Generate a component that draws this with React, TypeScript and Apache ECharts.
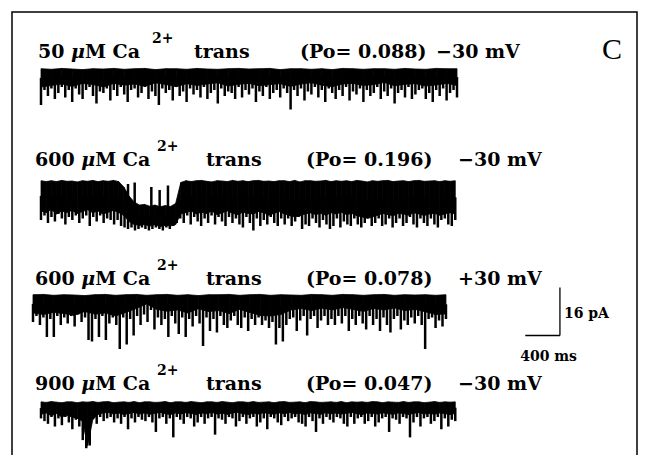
import React, { useEffect, useRef } from "react";
import * as echarts from "echarts";

// ---------- labels ----------
const concentrations = ["50", "600", "600", "900"];
const poValues = ["0.088", "0.196", "0.078", "0.047"];
const voltages = ["\u221230 mV", "\u221230 mV", "+30 mV", "\u221230 mV"];
const panelLetter = "C";
const scaleBarPA = 16;
const scaleBarMS = 400;
const scaleBarLabels = ["16 pA", "400 ms"];

// ---------- trace durations (ms) ----------
const durations = [4800, 4780, 4765, 4780];

// ---------- trace 1 (pA): upper edge, solid-band lower edge, per-bin minima ----------
const t1Top = [0.1,-0.1,0.2,0,-0.2,0.1,0,0.2,-0.1,0.1,0.2,-0.2,0.1,0.1,-0.1,0.2,0,-0.1,0.1,0.2,0,0.1,0.2,-0.2,0.1,0.1,-0.1,0.1,-0.2,0.2,0.1,-0.1,0.1,0.1,-0.1,0.2,0,-0.1,0.2,0.1,0.1];
const t1Low = [-6,-5.5,-5,-5.8,-4.8,-5.2,-6,-4.8,-5.4,-5,-5.8,-4.6,-5.2,-5.9,-4.9,-5.5,-5,-4.6,-5.7,-5.1,-4.8,-5.6,-5.2,-4.9,-5.8,-5,-4.6,-5.4,-5.9,-5,-4.8,-5.5,-5.2,-4.5,-5.6,-5.1,-4.9,-5.7,-5.3,-4.8,-5.5];
const t1Min = [
  -12,-7,-9,-6.5,-10,-8,-6,-9.5,-7,-11,
  -6.5,-8.5,-10,-7,-6,-9,-11.5,-7.5,-8,-6.5,
  -10.5,-7,-9,-6,-8.5,-11,-7,-6.5,-9.5,-8,
  -6,-10,-7.5,-9,-12,-6.5,-8,-7,-10.5,-6,
  -9,-7.5,-11,-6.5,-8.5,-7,-9.5,-6,-10,-8,
  -7,-11.5,-6.5,-9,-7.5,-8,-10,-6,-9.5,-7,
  -8.5,-6.5,-11,-7.5,-9,-6,-10,-8,-7,-9.5,
  -6.5,-8,-13.5,-7,-9,-6.5,-10.5,-7.5,-8.5,-6,
  -9.5,-7,-11,-6.5,-8,-10,-7,-9,-6,-10.5,
  -7.5,-8.5,-6.5,-11,-7,-9,-8,-6,-10,-7.5,
  -9,-6.5,-11.5,-8,-7,-9.5,-6,-10,-8.5,-7,
  -6.5,-10,-8,-11,-7,-9,-6.5,-10.5,-8,-7,-9.5,
];

// ---------- trace 2 ----------
const t2Top = [
  0.1,-0.2,0.1,-0.2,0.2,-0.1,0,-0.3,0.1,-0.1,0.2,-0.2,0.1,-0.1,0.2,-0.2,
  -2,-5,-7,-8,-7.8,-8.4,-8,-8.6,-8.2,-8.5,-7.5,-0.5,
  0.1,-0.2,0.1,0.2,-0.1,-0.3,0.1,0,-0.2,0.2,-0.1,0.1,-0.2,0.1,0.2,-0.1,0,-0.2,0.1,0.1,-0.2,0.2,-0.3,0.1,0.1,-0.1,0,0.2,-0.2,0.1,-0.1,0.1,-0.2,0.2,0,-0.3,0.1,-0.1,0.1,0.2,-0.2,0,0.1,-0.2,0.1,0.2,-0.1,0,0.1,-0.2,0.1,-0.1,0.1,
];
const t2Low = [
  -10,-10.5,-9.5,-11,-10,-10.5,-9.8,-10.8,-10.2,-9.6,-10.6,-10,-11,-10.4,-9.8,-10.5,
  -11.5,-13.5,-14.5,-14.8,-14.5,-15,-14.6,-15.2,-14.8,-15,-14.5,-11,
  -10.5,-10,-11,-10.4,-10.8,-10,-11.2,-10.6,-10,-10.8,-11.2,-10.4,-10.8,-11,-10.2,-10.6,-11.4,-10.8,-10.2,-11,-11.5,-12,-11.6,-11,-10.6,-11.2,-10.8,-11.4,-10.6,-11,-10.4,-11.2,-10.8,-11.6,-12,-12.4,-12,-11.4,-10.8,-11.2,-11.6,-10.8,-11,-11.4,-10.6,-11,-11.5,-11,-10.8,-11.4,-11,-10.6,-11,
];
const t2Min = [
  -13,-11.5,-14,-12,-13.5,-11,-12.5,-14.5,-12,-13,
  -11.5,-14,-12.5,-11.5,-15,-12,-13.5,-11.5,-14,-12.5,
  -13,-14.5,-13,-15,-15.5,-16,-15.5,-16.5,-16,-15.5,
  -16,-16.5,-16,-15.5,-16,-16.5,-15.5,-16,-15,-14,
  -12.5,-14,-11.5,-14.5,-12,-13.5,-15,-12.5,-14,-11.5,
  -14.5,-12,-13.5,-15,-12,-14,-12.5,-14.5,-15.5,-12,
  -14,-16.5,-12.5,-15,-13,-14.5,-12,-14,-15,-12.5,
  -14.5,-12.5,-15,-13.5,-12,-16,-14.5,-15,-12.5,-14,
  -15.5,-13,-14.5,-16,-15,-12.5,-15.5,-13.5,-14.5,-15,
  -12.5,-14.5,-15.5,-14,-12.5,-15,-14,-12.5,-15,-14.5,
  -12.5,-15.5,-14,-12.5,-15,-14,-12,-14.5,-15.5,-12.5,
  -14,-15,-12.5,-14.5,-15.5,-13,-12.5,-14.5,-15,-13,
];
// brief re-openings inside the long closure (ms, pA)
const t2UpT = [1004, 1081, 1273, 1369, 1465];
const t2UpV = [-1, -0.5, -2, -3, -1.5];

// ---------- trace 3 ----------
const t3Top = [0.1,0.2,-0.1,0.1,0,-0.2,0.1,0.2,-0.1,0.1,0.2,-0.1,0.1,0.2,-0.1,0.1,-0.2,0.1,0.1,0.2,-0.1,0.1,0.2,-0.1,0.1,0,-0.1,0.2,0.1,-0.1,0.2,0.1,-0.1,0.1,0.2,-0.1,0.1,0,0.1,-0.1,0.1];
const t3Low = [-6,-6.5,-5.8,-6.2,-6.8,-5.5,-6.4,-6,-7,-5.8,-4.5,-3,-4.8,-5.4,-5,-6,-4.6,-5.5,-5.2,-6.2,-4.8,-5.8,-6.8,-7,-6.5,-5,-4.5,-5.2,-4.4,-5,-4.2,-4.8,-5.5,-4.5,-5,-4.3,-5.2,-4.8,-5.6,-6.5,-6.3];
const t3Min = [
  -9,-7,-10,-7.5,-14,-8,-14,-7,-10,-7.5,
  -9.5,-7,-10.5,-6.5,-9,-7.5,-15,-15.5,-8,-14,
  -7,-15,-9.5,-7.5,-10,-18,-7.5,-16.5,-8,-13.5,
  -7,-10,-6.5,-9,-5,-11.5,-7.5,-10,-8,-14,
  -7,-9.5,-13,-7.5,-14,-8,-10.5,-7,-9.5,-17,
  -7.5,-12,-8,-12.5,-7,-10,-11,-8.5,-7,-10,
  -11,-7.5,-12,-8,-10,-7.5,-10,-8.5,-11,-9,
  -16.5,-11,-15.5,-10,-8,-7.5,-12,-8.5,-7,-13.5,
  -8,-7,-11,-8.5,-7,-10,-8,-10,-7,-9.5,
  -7,-12,-8,-10,-7,-9.5,-11.5,-7,-10,-8,
  -12,-7.5,-10,-12.5,-8,-7,-11.5,-8.5,-10,-7.5,
  -9.5,-7,-10,-18,-8,-7.5,-11,-8.5,-10.5,-8,
];

// ---------- trace 4 ----------
const t4Top = [
  0.1,-0.1,0.2,0,-0.2,0.1,0.1,-0.2,0.1,0,0.2,-0.1,0.1,0.2,-0.2,0,0.1,-0.1,0.2,-0.2,
  0.1,0.1,-0.1,0,0.2,-0.2,0.1,0.1,-0.1,0.2,0,-0.2,0.1,0.1,-0.1,0.2,0,-0.2,0.1,0.1,
  -0.1,0.2,-0.1,0,0.1,-0.2,0.1,0.2,-0.1,0,0.1,-0.2,0.2,0.1,-0.1,0,0.1,-0.1,0.2,-0.2,
  0.1,0,0.1,-0.1,0.2,0.1,-0.2,0.1,0,-0.1,0.2,-0.1,0.1,0.1,-0.2,0,0.2,-0.1,0.1,0,0.1,
];
const t4Low = [
  -4.5,-4,-5,-4.2,-5.5,-4.8,-5.5,-6,-7,-16,-6.5,
  -4.5,-4,-3.8,-4.4,-4,-4.6,-4.2,-3.8,-4.4,-4,-4.5,-4.2,-3.8,-4.3,-4.6,-4,-4.4,-3.9,-4.2,-4.6,
  -4,-4.3,-3.8,-4.4,-4.1,-4.5,-4,-3.8,-4.3,-4.6,-4.1,-4.4,-3.9,-4.2,-4.5,-4,-4.3,-3.8,-4.4,-4.1,
  -4.6,-4,-4.2,-4.5,-3.9,-4.3,-4,-4.4,-4.1,-3.8,-4.3,-4.6,-4,-4.2,-4.4,-3.9,-4.3,-4.5,-4,-4.2,
  -4.6,-4.1,-3.9,-4.4,-4.2,-4.5,-4,-4.3,-4.6,-4.2,
];
const t4Min = [
  -6,-7,-8,-5.5,-9,-6,-8.5,-5.5,-7.5,-10,
  -6.5,-9,-14,-17,-16,-6,-8,-5.5,-7,-6,
  -5.5,-7.5,-6,-8,-5.5,-10,-6,-7.5,-5.5,-6.5,
  -7,-5.5,-7.5,-11,-6,-5.5,-8,-6,-13,-5.5,
  -6.5,-8,-5.5,-6,-9,-7.5,-5.5,-8,-6,-5.5,
  -12,-6,-6.5,-8,-5.5,-6,-9,-7,-5.5,-8,
  -6,-5.5,-9,-7.5,-6,-10,-5.5,-6,-7.5,-8.5,
  -5.5,-7,-6,-5.5,-7.5,-8,-9,-5.5,-7,-11,
  -6,-8,-5.5,-6.5,-7.5,-5.5,-6,-8,-9,-5.5,
  -8,-6,-5.5,-8,-7,-5.5,-9,-7.5,-6,-5.5,
  -11,-6,-6.5,-8,-5.5,-6,-13,-7.5,-5.5,-9,
  -6,-5.5,-8,-7,-5.5,-10,-6,-9,-6.5,-7,
];

const traces = [
  { top: t1Top, low: t1Low, mins: t1Min, upT: [] as number[], upV: [] as number[] },
  { top: t2Top, low: t2Low, mins: t2Min, upT: t2UpT, upV: t2UpV },
  { top: t3Top, low: t3Low, mins: t3Min, upT: [] as number[], upV: [] as number[] },
  { top: t4Top, low: t4Low, mins: t4Min, upT: [] as number[], upV: [] as number[] },
];

// ---------- layout ----------
const W = 645, H = 455;
const K = 3; // px per pA
const Y_MAX = 3, Y_MIN = -19.5;
const X_MAX = 6400;
const PX_PER_MS = 416 / 4800;
const traceTopY = [69, 181, 295, 403];
const gridLeft = [41, 41, 33, 41];
const rowBase = [56, 164, 283, 388];
const rowX = [
  [38, 152, 194, 300, 436],
  [35, 157, 206, 306, 458],
  [35, 157, 206, 306, 458],
  [35, 157, 206, 306, 458],
];
const BAR_T = 6080;
const BAR_TOP = 2.5;
const TOOTH_W = 2.5;

const FONT = '"DejaVu Serif"';
const FS = 19;

function interp(arr: number[], dur: number, t: number) {
  const n = arr.length;
  const f = Math.max(0, Math.min(n - 1, (t / dur) * (n - 1)));
  const i = Math.floor(f);
  const j = Math.min(n - 1, i + 1);
  const a = f - i;
  return arr[i] * (1 - a) + arr[j] * a;
}

export default function App() {
  const ref = useRef<HTMLDivElement>(null);
  useEffect(() => {
    if (!ref.current) return;
    const chart = echarts.init(ref.current, null, { renderer: "svg" });

    const grids: any[] = [];
    const xAxes: any[] = [];
    const yAxes: any[] = [];
    const series: any[] = [];

    traces.forEach((tr, g) => {
      grids.push({
        left: gridLeft[g],
        top: traceTopY[g] - Y_MAX * K,
        width: X_MAX * PX_PER_MS,
        height: (Y_MAX - Y_MIN) * K,
      });
      xAxes.push({ gridIndex: g, type: "value", min: 0, max: X_MAX, show: false });
      yAxes.push({ gridIndex: g, type: "value", min: Y_MIN, max: Y_MAX, show: false });

      const dur = durations[g];
      const n = tr.top.length;
      const band: number[][] = [];
      for (let i = 0; i < n - 1; i++) {
        band.push([
          (i * dur) / (n - 1), tr.top[i], tr.low[i],
          ((i + 1) * dur) / (n - 1), tr.top[i + 1], tr.low[i + 1],
        ]);
      }
      series.push({
        type: "custom",
        xAxisIndex: g,
        yAxisIndex: g,
        data: band,
        encode: { x: [0, 3], y: [1, 2, 4, 5] },
        silent: true,
        renderItem: (_p: any, api: any) => {
          const p0 = api.coord([api.value(0), api.value(1)]);
          const p1 = api.coord([api.value(3), api.value(4)]);
          const p2 = api.coord([api.value(3), api.value(5)]);
          const p3 = api.coord([api.value(0), api.value(2)]);
          return {
            type: "polygon",
            shape: { points: [p0, p1, p2, p3] },
            style: { fill: "#000", stroke: "#000", lineWidth: 0.8 },
          };
        },
      });

      const m = tr.mins.length;
      const teeth: number[][] = tr.mins.map((v, i) => {
        const t = (i * dur) / (m - 1);
        const mid = (interp(tr.top, dur, t) + interp(tr.low, dur, t)) / 2;
        return [t, v, mid];
      });
      tr.upT.forEach((t, i) => {
        const mid = (interp(tr.top, dur, t) + interp(tr.low, dur, t)) / 2;
        teeth.push([t, tr.upV[i], mid]);
      });
      series.push({
        type: "custom",
        xAxisIndex: g,
        yAxisIndex: g,
        data: teeth,
        encode: { x: 0, y: [1, 2] },
        silent: true,
        renderItem: (_p: any, api: any) => {
          const a = api.coord([api.value(0), api.value(2)]);
          const b = api.coord([api.value(0), api.value(1)]);
          return {
            type: "line",
            shape: { x1: a[0], y1: a[1], x2: b[0], y2: b[1] },
            style: { stroke: "#000", lineWidth: TOOTH_W },
          };
        },
      });
    });

    // scale bar drawn in the coordinates of trace 3
    series.push({
      type: "custom",
      xAxisIndex: 2,
      yAxisIndex: 2,
      data: [[BAR_T, BAR_TOP, BAR_TOP - scaleBarPA, BAR_T - scaleBarMS]],
      encode: { x: [0, 3], y: [1, 2] },
      silent: true,
      renderItem: (_p: any, api: any) => {
        const top = api.coord([api.value(0), api.value(1)]);
        const corner = api.coord([api.value(0), api.value(2)]);
        const left = api.coord([api.value(3), api.value(2)]);
        return {
          type: "group",
          children: [
            { type: "line", shape: { x1: top[0], y1: top[1], x2: corner[0], y2: corner[1] }, style: { stroke: "#000", lineWidth: 1.3 } },
            { type: "line", shape: { x1: left[0], y1: left[1], x2: corner[0], y2: corner[1] }, style: { stroke: "#000", lineWidth: 1.3 } },
            { type: "text", x: corner[0] + 4, y: (top[1] + corner[1]) / 2 + 1, style: { text: scaleBarLabels[0], font: `bold 14px ${FONT}`, fill: "#000", align: "left", verticalAlign: "middle" } },
            { type: "text", x: (left[0] + corner[0]) / 2 + 6, y: corner[1] + 13, style: { text: scaleBarLabels[1], font: `bold 14px ${FONT}`, fill: "#000", align: "center", verticalAlign: "top" } },
          ],
        };
      },
    });

    const graphics: any[] = [
      {
        type: "polyline",
        shape: { points: [[12, H + 5], [12, 12], [637, 12], [637, H + 5]] },
        style: { stroke: "#000", lineWidth: 1.5, fill: "none" },
        silent: true,
      },
      {
        type: "text",
        x: 602,
        y: 63,
        style: { text: panelLetter, font: `30px "Liberation Serif"`, fill: "#000", verticalAlign: "bottom" },
        silent: true,
      },
    ];
    for (let r = 0; r < 4; r++) {
      const xs = rowX[r];
      const base = rowBase[r];
      const yb = base + 4;
      graphics.push({
        type: "text", x: xs[0], y: yb, silent: true,
        style: {
          text: `{n|${concentrations[r]} }{m|\u03bc}{n|M Ca}`,
          rich: {
            n: { font: `bold ${FS}px ${FONT}`, fill: "#000" },
            m: { font: `italic bold ${FS}px ${FONT}`, fill: "#000" },
          },
          verticalAlign: "bottom",
        },
      });
      graphics.push({ type: "text", x: xs[1], y: base - 11, silent: true, style: { text: "2+", font: `bold 14px ${FONT}`, fill: "#000", verticalAlign: "bottom" } });
      graphics.push({ type: "text", x: xs[2], y: yb, silent: true, style: { text: "trans", font: `bold ${FS}px ${FONT}`, fill: "#000", verticalAlign: "bottom" } });
      graphics.push({ type: "text", x: xs[3], y: yb, silent: true, style: { text: `(Po= ${poValues[r]})`, font: `bold ${FS}px ${FONT}`, fill: "#000", verticalAlign: "bottom" } });
      graphics.push({ type: "text", x: xs[4], y: yb, silent: true, style: { text: voltages[r], font: `bold ${FS}px ${FONT}`, fill: "#000", verticalAlign: "bottom" } });
    }

    chart.setOption({
      animation: false,
      backgroundColor: "#fff",
      grid: grids,
      xAxis: xAxes,
      yAxis: yAxes,
      series,
      graphic: graphics,
    });
    return () => chart.dispose();
  }, []);
  return <div ref={ref} style={{ position: "fixed", left: 0, top: 0, width: W, height: H }} />;
}
